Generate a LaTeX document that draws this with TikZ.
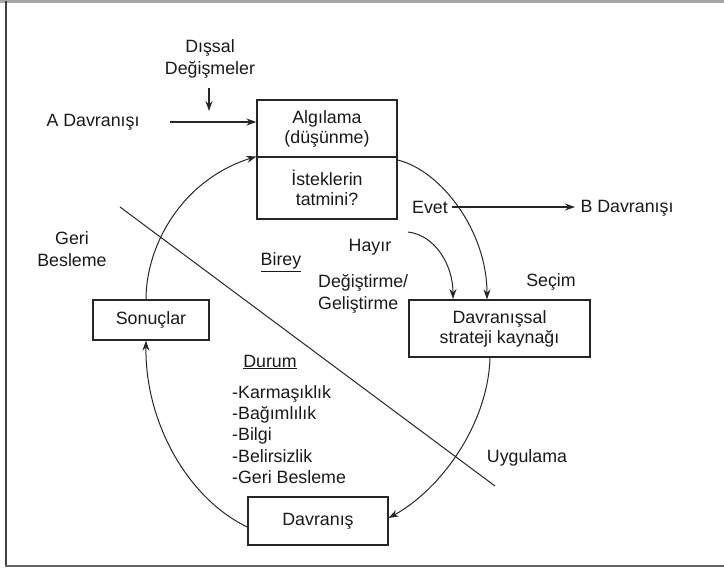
\documentclass[tikz,border=0pt]{standalone}
\usepackage{fontspec}
\setmainfont{Liberation Sans}
\usetikzlibrary{arrows.meta}
\begin{document}
\begin{tikzpicture}[x=1pt,y=-1pt,
  every node/.style={font=\fontsize{17.8}{21}\selectfont, inner sep=0pt, text=black!90},
  box/.style={draw=black!85, line width=1.2pt, align=center, font=\fontsize{17.8}{20}\selectfont},
  lbl/.style={align=center},
  lbll/.style={align=left},
  conn/.style={draw=black!85, line width=1pt, -{Stealth[length=10pt,width=7pt]}},
  thickconn/.style={conn, line width=1.6pt},
  plain/.style={draw=black!85, line width=1pt},
  frame/.style={draw=black!75, line width=2.5pt}
 ]
\useasboundingbox (0,0) rectangle (724,571);
% frame
\draw[draw=gray!70, line width=3pt] (0,1.5) -- (724,1.5);
\draw[frame, line width=2pt] (6,1) -- (6,567);
\draw[frame, draw=gray!80!black] (5,566) -- (724,566);

% boxes
\node[box, minimum width=140pt, minimum height=57pt] (alg) at (327,128.5) {Algılama\\(düşünme)};
\node[box, minimum width=140pt, minimum height=62pt] (ist) at (327,188) {İsteklerin\\tatmini?};
\node[box, minimum width=116pt, minimum height=40pt] (son) at (151,320) {Sonuçlar};
\node[box, minimum width=181pt, minimum height=57pt] (str) at (499.5,328.5) {Davranışsal\\strateji kaynağı};
\node[box, minimum width=140pt, minimum height=48pt] (dav) at (318,521) {Davranış};

% labels
\node[lbl] (dis) at (210,59) {Dışsal\\[1pt]Değişmeler};
\node[lbl] (ad) at (93,122) {A Davranışı};
\node[lbl] (evet) at (430,207) {Evet};
\node[lbl] (bd) at (627,208) {B Davranışı};
\node[lbl] (hay) at (370,247) {Hayır};
\node[lbll, anchor=west] (deg) at (318,294) {Değiştirme/\\[1pt]Geliştirme};
\node[lbl] (sec) at (551,282) {Seçim};
\node[lbl] (bir) at (281,262) {\underline{Birey}};
\node[lbl] (dur) at (270,362) {\underline{Durum}};
\node[lbll, anchor=west, font=\fontsize{17.8}{21.25}\selectfont] (list) at (232,434.5) {-Karmaşıklık\\-Bağımlılık\\-Bilgi\\-Belirsizlik\\-Geri Besleme};
\node[lbl] (geri) at (72,249) {Geri\\[1pt]Besleme};
\node[lbl] (uyg) at (527,458) {Uygulama};

% coordinates
\coordinate (aS) at (170,122);
\coordinate (dS) at (209,88);
\coordinate (dE) at (209,111);
\coordinate (eS) at (452,207);
\coordinate (eE) at (575,207);
\coordinate (hS) at (408,232);
\coordinate (hE) at (453,299);
\coordinate (diagA) at (120,207);
\coordinate (diagB) at (495,486);

% connectors
\draw[thickconn] (aS) -- (aS -| alg.west);
\draw[thickconn] (dS) -- (dE);
\draw[conn, line width=1.3pt] (eS) -- (eE);
\draw[plain] (diagA) -- (diagB);
\draw[conn] (son.north -| 146,0) .. controls (146,245) and (182,180) .. (ist.north west);
\draw[conn] (dav.west |- 0,527) .. controls (190,500) and (145,425) .. (son.south -| 146,0);
\draw[conn] (ist.north east |- 0,160) .. controls (440,170) and (487,230) .. (str.north -| 487,0);
\draw[conn] (hS) .. controls (435,235) and (453,265) .. (hE);
\draw[conn] (str.south -| 490,0) .. controls (488,425) and (440,490) .. (dav.east |- 0,518);
\end{tikzpicture}
\end{document}
